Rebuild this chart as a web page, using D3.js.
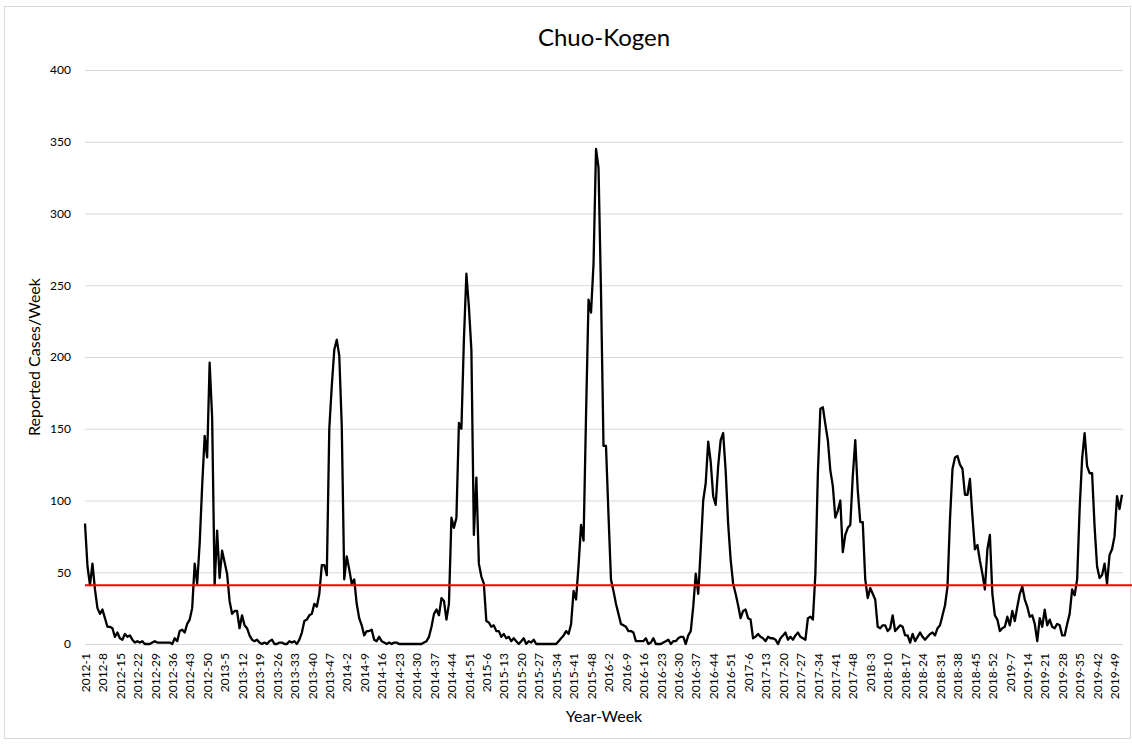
<!DOCTYPE html>
<html>
<head>
<meta charset="utf-8">
<script src="https://cdn.jsdelivr.net/npm/d3@7"></script>
<style>
    body { margin: 0; background: #fff; }
    .frame { fill: #fff; stroke: #d9d9d9; stroke-width: 1; }
    .grid line { stroke: #d9d9d9; stroke-width: 1; }
    .grid .domain, .x-axis .domain, .x-axis line { display: none; }
    .grid text, .x-axis text { fill: #000; font-family: Lato, "Open Sans", sans-serif; font-size: 12px; }
    .title { font-family: Lato, "Open Sans", sans-serif; font-size: 24px; fill: #000; }
    .axis-label { font-family: Lato, "Open Sans", sans-serif; font-size: 16px; fill: #000; }
</style>
</head>
<body>
<div id="chart"></div>
<script>
// weekly reported cases, one array per year (2015 has 53 ISO weeks)
const years = [2012, 2013, 2014, 2015, 2016, 2017, 2018, 2019];
const cases2012 = [84,54,41,56,38,25,21,24,18,12,12,11,5,8,4,3,7,5,6,3,1,2,1,2,0,0,0,1,2,1,1,1,1,1,1,0,4,2,9,10,8,14,17,25,56,42,70,110,145,130,196,158];
const cases2013 = [41,79,46,65,57,49,30,21,23,23,11,20,13,11,6,3,2,3,1,0,1,0,2,3,0,0,1,1,0,0,2,1,2,0,3,8,16,17,20,21,28,26,35,55,55,48,150,180,205,212,201,152];
const cases2014 = [45,61,52,42,45,28,18,13,6,9,9,10,3,2,5,2,1,0,1,0,1,1,0,0,0,0,0,0,0,0,0,0,1,2,5,12,21,24,20,32,30,17,28,88,81,88,154,150,212,258,235,205];
const cases2015 = [76,116,56,47,42,16,15,12,13,9,9,5,7,4,5,2,4,2,0,2,4,0,2,1,3,0,0,0,0,0,0,0,0,0,2,4,6,9,7,14,37,31,55,83,72,160,240,231,265,345,332,245,138];
const cases2016 = [138,90,45,37,28,21,14,13,12,9,9,8,2,2,2,2,4,0,1,4,0,0,0,1,2,3,0,2,2,4,5,5,0,6,9,26,49,35,66,100,112,141,127,103,97,124,142,147,121,84,59,42];
const cases2017 = [35,27,18,23,24,18,17,4,5,7,5,4,2,5,4,4,3,0,4,6,8,3,5,3,6,8,5,4,3,18,19,17,49,119,164,165,153,142,121,110,88,93,100,64,76,81,83,117,142,107,85,85];
const cases2018 = [45,32,39,35,31,12,11,13,13,9,11,20,9,11,13,12,6,6,1,7,2,5,8,5,3,5,7,8,6,11,13,20,27,40,87,122,130,131,125,122,104,104,115,89,66,69,58,49,38,66,76,35];
const cases2019 = [20,17,9,11,12,19,13,23,16,26,35,40,31,26,19,20,14,2,18,12,24,13,17,12,11,14,13,6,6,14,21,38,34,45,94,129,147,124,119,119,82,54,46,48,56,42,62,66,75,103,94,104];
const casesByYear = [cases2012, cases2013, cases2014, cases2015, cases2016, cases2017, cases2018, cases2019];

const yTicks = [0, 50, 100, 150, 200, 250, 300, 350, 400];
const labelEvery = 7;   // one x label every 7 weeks
const threshold = 41;   // red reference line

class WeeklyCasesChart {
    constructor(containerId) {
        this.container = d3.select(containerId);
        this.outerWidth = 1132;
        this.outerHeight = 744;
        this.margin = { top: 70, right: 9, bottom: 100, left: 85 };
        this.width = this.outerWidth - this.margin.left - this.margin.right;
        this.height = this.outerHeight - this.margin.top - this.margin.bottom;
        this.init();
    }

    init() {
        this.root = this.container
            .append("svg")
            .attr("width", this.outerWidth)
            .attr("height", this.outerHeight);

        this.root.append("rect")
            .attr("class", "frame")
            .attr("x", 4.5)
            .attr("y", 6.5)
            .attr("width", this.outerWidth - 6)
            .attr("height", this.outerHeight - 12);

        this.svg = this.root
            .append("g")
            .attr("transform", `translate(${this.margin.left},${this.margin.top})`);

        this.processData();
        this.addAxes();
        this.addLines();
        this.addLabels();
    }

    processData() {
        this.data = [];
        years.forEach((yr, k) => {
            casesByYear[k].forEach((v, w) => {
                this.data.push({ week: `${yr}-${w + 1}`, value: v });
            });
        });

        this.xScale = d3.scalePoint()
            .domain(this.data.map(d => d.week))
            .range([0, this.width - 1]);
        this.yScale = d3.scaleLinear()
            .domain([0, 400])
            .range([this.height, 0]);
    }

    addAxes() {
        this.svg.append("g")
            .attr("class", "grid")
            .call(d3.axisLeft(this.yScale)
                .tickValues(yTicks)
                .tickSize(-this.width)
                .tickPadding(14));

        const tickWeeks = this.data.map(d => d.week).filter((d, i) => i % labelEvery === 0);

        this.svg.append("g")
            .attr("class", "x-axis")
            .attr("transform", `translate(0, ${this.height})`)
            .call(d3.axisBottom(this.xScale).tickValues(tickWeeks).tickSize(0))
            .selectAll("text")
            .attr("transform", "rotate(-90)")
            .attr("text-anchor", "end")
            .attr("x", -9)
            .attr("y", 0)
            .attr("dy", "0.35em");
    }

    addLines() {
        const line = d3.line()
            .x(d => this.xScale(d.week))
            .y(d => this.yScale(d.value));

        this.svg.append("path")
            .datum(this.data)
            .attr("fill", "none")
            .attr("stroke", "#000")
            .attr("stroke-width", 2.3)
            .attr("stroke-linejoin", "round")
            .attr("d", line);

        // threshold line runs out to the right edge of the frame
        this.svg.append("line")
            .attr("x1", 0)
            .attr("x2", this.outerWidth - this.margin.left)
            .attr("y1", this.yScale(threshold))
            .attr("y2", this.yScale(threshold))
            .attr("stroke", "#ff0000")
            .attr("stroke-width", 2);
    }

    addLabels() {
        this.root.append("text")
            .attr("class", "title")
            .attr("text-anchor", "middle")
            .attr("x", this.margin.left + this.width / 2)
            .attr("y", 46)
            .text("Chuo-Kogen");

        this.svg.append("text")
            .attr("class", "axis-label")
            .attr("text-anchor", "middle")
            .attr("x", this.width / 2)
            .attr("y", this.height + 78)
            .text("Year-Week");

        this.svg.append("text")
            .attr("class", "axis-label")
            .attr("text-anchor", "middle")
            .attr("transform", "rotate(-90)")
            .attr("x", -this.height / 2)
            .attr("y", -45)
            .text("Reported Cases/Week");
    }
}

new WeeklyCasesChart("#chart");
</script>
</body>
</html>
